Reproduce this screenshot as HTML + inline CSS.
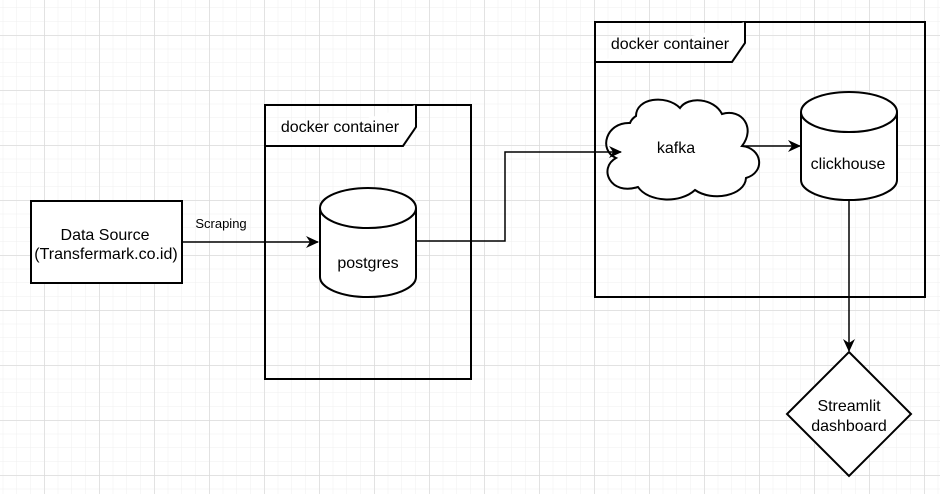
<!DOCTYPE html>
<html><head><meta charset="utf-8"><style>
html,body{margin:0;padding:0;background:#fff;}
svg{display:block;font-family:"Liberation Sans",Arial,sans-serif;}
</style></head><body>
<svg width="940" height="494" viewBox="0 0 940 494" xmlns="http://www.w3.org/2000/svg">
<defs>
<pattern id="minor" x="44" y="35" width="13.75" height="13.75" patternUnits="userSpaceOnUse">
<path d="M0 0H13.75M0 0V13.75" stroke="#efefef" stroke-width="1" fill="none"/>
</pattern>
<pattern id="major" x="44.5" y="35.5" width="55" height="55" patternUnits="userSpaceOnUse">
<path d="M0 0H55M0 0V55" stroke="#d6d6d6" stroke-width="1" fill="none"/>
</pattern>
<marker id="ar" markerWidth="13" markerHeight="12" refX="12" refY="6" orient="auto" markerUnits="userSpaceOnUse">
<path d="M0,0 L13,6 L0,12 L4,6 Z" fill="#000"/>
</marker>
</defs>
<rect width="940" height="494" fill="url(#minor)"/>
<rect width="940" height="494" fill="url(#major)"/>
<g stroke="#000" stroke-width="2" fill="none">
<rect x="265" y="105" width="206" height="274"/>
<path d="M265 146H403L416 127V105" fill="#fff"/>
<rect x="595" y="22" width="330" height="275"/>
<path d="M595 62H732L745 43V22" fill="#fff"/>
<rect x="31" y="201" width="151" height="82" fill="#fff"/>
<path d="M320 208V277A48 20 0 0 0 416 277V208A48 20 0 0 0 320 208Z" fill="#fff"/>
<path d="M320 208A48 20 0 0 0 416 208"/>
<path d="M801 112V180A48 20 0 0 0 897 180V112A48 20 0 0 0 801 112Z" fill="#fff"/>
<path d="M801 112A48 20 0 0 0 897 112"/>
<path d="M630 123 C606 122 598 150 616 158 C598 168 610 196 638 187 C648 202 680 204 695 190 C712 202 745 196 746 178 C766 172 762 148 742 146 C756 128 742 108 722 114 C714 98 688 96 680 108 C666 94 636 98 636 116 C633 118 631 120 630 123 Z" fill="#fff"/>
<path d="M849 352L911 414L849 476L787 414Z" fill="#fff"/>
</g>
<g stroke="#000" stroke-width="1.5" fill="none">
<path d="M182 242H318" marker-end="url(#ar)"/>
<path d="M416 241H505V152H621" marker-end="url(#ar)"/>
<path d="M742 146H800" marker-end="url(#ar)"/>
<path d="M849 200V351" marker-end="url(#ar)"/>
</g>
<g font-size="16" fill="#000" text-anchor="middle">
<text x="340" y="132">docker container</text>
<text x="670" y="49">docker container</text>
<text x="105" y="240">Data  Source</text>
<text x="106" y="259">(Transfermark.co.id)</text>
<text x="368" y="268">postgres</text>
<text x="676" y="153">kafka</text>
<text x="848" y="169">clickhouse</text>
<text x="849" y="411">Streamlit</text>
<text x="849" y="431">dashboard</text>
<text x="221" y="228" font-size="13">Scraping</text>
</g>
</svg>
</body></html>
